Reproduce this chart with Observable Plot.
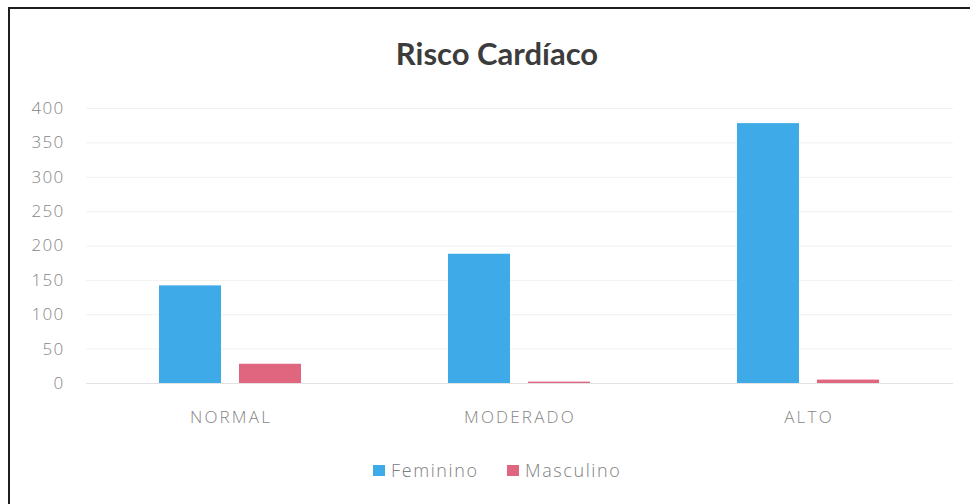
<!DOCTYPE html>
<html>
<head>
<meta charset="utf-8">
<script src="https://cdn.jsdelivr.net/npm/d3@7"></script>
<script src="https://cdn.jsdelivr.net/npm/@observablehq/plot@0.6"></script>
<style>
  html, body { margin: 0; padding: 0; background: #fff; }
  #wrap { position: relative; width: 970px; height: 504px; overflow: hidden; background: #fff; }
  #chart { position: absolute; left: 0; top: 0; }
  #title { position: absolute; left: 0; width: 994px; top: 34px; text-align: center;
           font-family: Lato, "Open Sans", sans-serif; font-weight: 700; font-size: 31px; color: #3c3c3c; }
  #legend { position: absolute; left: 0; top: 458px; width: 970px; height: 24px;
            font-family: "Open Sans", sans-serif; font-weight: 300; font-size: 18px; color: #808080; letter-spacing: 1.6px; }
  .lg { position: absolute; top: 0; display: flex; align-items: center; height: 24px; }
  .sw { width: 12px; height: 11px; margin-right: 6px; }
  .bl { position: absolute; background: #1e1e1e; }
</style>
</head>
<body>
<div id="wrap">
  <div id="chart"></div>
  <div id="title">Risco Cardíaco</div>
  <div id="legend"></div>
  <div class="bl" style="left:8px;top:7px;width:2px;height:497px;"></div>
  <div class="bl" style="left:8px;top:7px;width:962px;height:2px;"></div>
</div>
<script>
const categories = ["NORMAL", "MODERADO", "ALTO"];
const series = ["Feminino", "Masculino"];
const feminino = [142, 188, 378];
const masculino = [28, 2, 5];
const yTicks = [0, 50, 100, 150, 200, 250, 300, 350, 400];
const colors = ["#3eaae8", "#e0667f"];

const data = [];
categories.forEach((c, i) => {
  data.push({cat: c, sexo: series[0], v: feminino[i]});
  data.push({cat: c, sexo: series[1], v: masculino[i]});
});

const chart = Plot.plot({
  width: 970,
  height: 504,
  marginLeft: 86,
  marginRight: 17,
  marginTop: 108,
  marginBottom: 121,
  style: {fontFamily: "'Open Sans', sans-serif", background: "transparent"},
  fx: {domain: categories, padding: 0, axis: "bottom", label: null, tickSize: 0, tickPadding: 27},
  x: {domain: series, axis: null, paddingInner: 0.222, paddingOuter: 0.895},
  y: {domain: [0, 400], ticks: yTicks, label: null, tickSize: 0, tickPadding: 22},
  color: {domain: series, range: colors},
  marks: [
    Plot.ruleY(yTicks.filter(d => d > 0), {stroke: "#f1f1f1", strokeWidth: 1}),
    Plot.ruleY([0], {stroke: "#e2e2e2", strokeWidth: 1}),
    Plot.barY(data, {fx: "cat", x: "sexo", y: "v", fill: "sexo"})
  ]
});
d3.select(chart).selectAll("g[aria-label='y-axis tick label'], g[aria-label='fx-axis tick label']")
  .attr("font-size", 17).attr("fill", "#858585").attr("font-weight", 300).style("letter-spacing", "1.3px");
d3.select(chart).selectAll("g[aria-label='fx-axis tick label']").style("letter-spacing", "2.2px");
document.getElementById("chart").appendChild(chart);

const legend = document.getElementById("legend");
const lx = [373, 507];
series.forEach((s, i) => {
  const item = document.createElement("div");
  item.className = "lg";
  item.style.left = lx[i] + "px";
  const sw = document.createElement("div");
  sw.className = "sw";
  sw.style.background = colors[i];
  const t = document.createElement("span");
  t.textContent = s;
  item.appendChild(sw);
  item.appendChild(t);
  legend.appendChild(item);
});
</script>
</body>
</html>
